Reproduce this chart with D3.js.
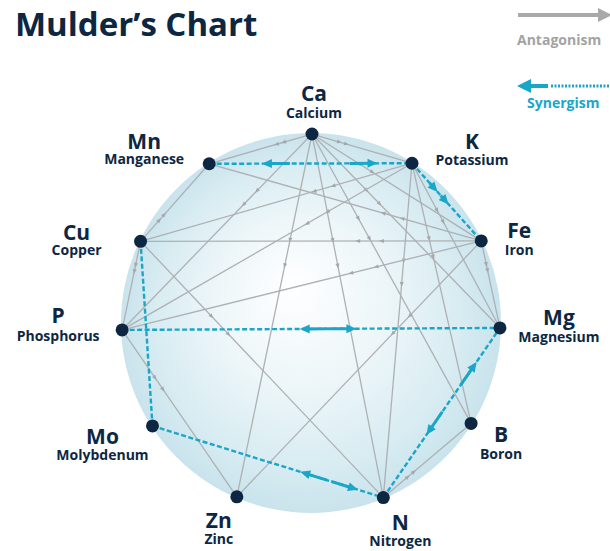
<!DOCTYPE html>
<html>
<head>
<meta charset="utf-8">
<script src="https://cdn.jsdelivr.net/npm/d3@7"></script>
<style>
  html, body { margin: 0; padding: 0; background: #ffffff; }
  svg { display: block; }
  text { font-family: "Open Sans", "DejaVu Sans", sans-serif; font-weight: 700; }
</style>
</head>
<body>
<svg id="chart" width="610" height="551"></svg>
<script>
// ---------------- data ----------------
const symbols = ["Ca", "K", "Fe", "Mg", "B", "N", "Zn", "Mo", "P", "Cu", "Mn"];
const names = ["Calcium", "Potassium", "Iron", "Magnesium", "Boron", "Nitrogen", "Zinc", "Molybdenum", "Phosphorus", "Copper", "Manganese"];

// antagonism links (source -> target)
const antagonismSources = ["Ca","Ca","Ca","Ca","Ca","Ca","Ca","Ca","K","K","K","K","K","Fe","Fe","Fe","Fe","Fe","Cu","Cu","Cu","P","N"];
const antagonismTargets = ["Mn","K","Fe","Mg","B","N","Zn","P","Cu","P","Mg","B","N","Mn","Cu","P","Zn","Mg","Mn","P","N","Zn","B"];

// synergism links
const synergismSources = ["Mn", "K", "P", "Cu", "Mo", "N"];
const synergismTargets = ["K", "Fe", "Mg", "Mo", "N", "Mg"];
const synergismDirection = ["both", "forward", "both", "none", "both", "both"];

const titleText = "Mulder’s Chart";
const legendLabels = ["Antagonism", "Synergism"];

// ---------------- layout ----------------
const W = 610, H = 551;
const cx = 311, cy = 323, R = 189;
const nodeAngles = [-89.7, -57.7, -25.75, 1.5, 32.1, 67.5, 113.1, 147, 177.9, 205.6, 237.4];
// label offsets: [dx, symbol baseline dy, name baseline dy]
const labelOffsets = [[2,-33,-16],[60,-14,2],[38,-3,14],[59,-3,14],[30,19,36],[17,32,48],[-18,31,47],[-50,18,34],[-64,-7,11],[-64,-1,14],[-65,-15,0]];
// arrow placement along synergy links: [t, pointsToTarget]
const synergyArrowT = [
  [[0.26, false], [0.83, true]],
  [[0.37, true], [0.53, true]],
  [[0.47, false], [0.62, true]],
  [],
  [[0.64, false], [0.89, true]],
  [[0.37, false], [0.80, true]]
];

const navy = "#0d2742";
const blue = "#1aa6c8";
const grayLine = "#aeb1b3";

const svg = d3.select("#chart");
const defs = svg.append("defs");
const grad = defs.append("radialGradient").attr("id", "bg")
  .attr("cx", "50%").attr("cy", "50%").attr("r", "50%")
  .attr("fx", "45%").attr("fy", "40%");
grad.append("stop").attr("offset", "0%").attr("stop-color", "#ffffff");
grad.append("stop").attr("offset", "45%").attr("stop-color", "#edf6f9");
grad.append("stop").attr("offset", "80%").attr("stop-color", "#d8ecf2");
grad.append("stop").attr("offset", "100%").attr("stop-color", "#c9e3ec");

const angleScale = d3.scaleLinear().domain([0, 360]).range([0, 2 * Math.PI]);
const rScale = d3.scaleLinear().domain([0, 1]).range([0, R]);

const nodes = symbols.map((s, i) => {
  const a = angleScale(nodeAngles[i]);
  return { sym: s, name: names[i], x: cx + rScale(1) * Math.cos(a), y: cy + rScale(1) * Math.sin(a), off: labelOffsets[i] };
});
const byId = new Map(nodes.map(n => [n.sym, n]));

// background sphere
svg.append("circle").attr("cx", cx).attr("cy", cy).attr("r", R + 1).attr("fill", "url(#bg)");

// helper: arrowhead polygon at point p pointing along unit vector (ux,uy)
function arrowPath(px, py, ux, uy, len, hw) {
  const bx = px - ux * len, by = py - uy * len;
  const nx = -uy, ny = ux;
  return `M${px},${py}L${bx + nx * hw},${by + ny * hw}L${bx - nx * hw},${by - ny * hw}Z`;
}

// antagonism links
const gAnt = svg.append("g");
antagonismSources.forEach((s, i) => {
  const a = byId.get(s), b = byId.get(antagonismTargets[i]);
  gAnt.append("line").attr("x1", a.x).attr("y1", a.y).attr("x2", b.x).attr("y2", b.y)
    .attr("stroke", grayLine).attr("stroke-width", 1.3);
  const dx = b.x - a.x, dy = b.y - a.y, L = Math.hypot(dx, dy);
  const ux = dx / L, uy = dy / L;
  [0.3, 0.37].forEach(t => {
    gAnt.append("path").attr("d", arrowPath(a.x + dx * t, a.y + dy * t, ux, uy, 5, 2))
      .attr("fill", "#a4a8ab");
  });
});

// synergism links
const gSyn = svg.append("g");
synergismSources.forEach((s, i) => {
  const a = byId.get(s), b = byId.get(synergismTargets[i]);
  gSyn.append("line").attr("x1", a.x).attr("y1", a.y).attr("x2", b.x).attr("y2", b.y)
    .attr("stroke", blue).attr("stroke-width", 2.4).attr("stroke-dasharray", "5,2.5");
  const dx = b.x - a.x, dy = b.y - a.y, L = Math.hypot(dx, dy);
  const ux = dx / L, uy = dy / L;
  const tail = synergismDirection[i] === "forward" ? 6 : 22;
  synergyArrowT[i].forEach(([t, toTarget]) => {
    const px = a.x + dx * t, py = a.y + dy * t;
    const vx = toTarget ? ux : -ux, vy = toTarget ? uy : -uy;
    gSyn.append("line").attr("x1", px - vx * 6).attr("y1", py - vy * 6)
      .attr("x2", px - vx * (6 + tail)).attr("y2", py - vy * (6 + tail))
      .attr("stroke", blue).attr("stroke-width", 3);
    gSyn.append("path").attr("d", arrowPath(px, py, vx, vy, 10, 4.5)).attr("fill", blue);
  });
});

// nodes
svg.append("g").selectAll("circle").data(nodes).join("circle")
  .attr("cx", d => d.x).attr("cy", d => d.y).attr("r", 6.5).attr("fill", navy);

// labels: one text per element, symbol line + name line
const gLab = svg.append("g").attr("fill", navy).attr("text-anchor", "middle");
const lab = gLab.selectAll("text").data(nodes).join("text")
  .attr("x", d => d.x + d.off[0]).attr("y", d => d.y + d.off[1]);
lab.append("tspan").attr("font-size", 21).text(d => d.sym);
lab.append("tspan").attr("font-size", 14)
  .attr("x", d => d.x + d.off[0]).attr("dy", d => d.off[2] - d.off[1])
  .text(d => d.name);

// title
svg.append("text").attr("x", 15).attr("y", 36).attr("font-size", 33).attr("fill", navy).text(titleText);

// legend
const lg = svg.append("g");
lg.append("line").attr("x1", 518).attr("y1", 15).attr("x2", 600).attr("y2", 15)
  .attr("stroke", "#a9a9a9").attr("stroke-width", 4);
lg.append("path").attr("d", arrowPath(612, 15, 1, 0, 14, 7)).attr("fill", "#a9a9a9");
lg.append("text").attr("x", 517).attr("y", 45).attr("font-size", 14).attr("fill", "#a3a3a3").text(legendLabels[0]);

lg.append("path").attr("d", arrowPath(517, 86, -1, 0, 14, 7)).attr("fill", blue);
lg.append("line").attr("x1", 530).attr("y1", 86).attr("x2", 548).attr("y2", 86)
  .attr("stroke", blue).attr("stroke-width", 4);
lg.append("line").attr("x1", 551).attr("y1", 86).attr("x2", 610).attr("y2", 86)
  .attr("stroke", blue).attr("stroke-width", 3).attr("stroke-dasharray", "2,1.5");
lg.append("text").attr("x", 527).attr("y", 108).attr("font-size", 14).attr("fill", blue).text(legendLabels[1]);
</script>
</body>
</html>
